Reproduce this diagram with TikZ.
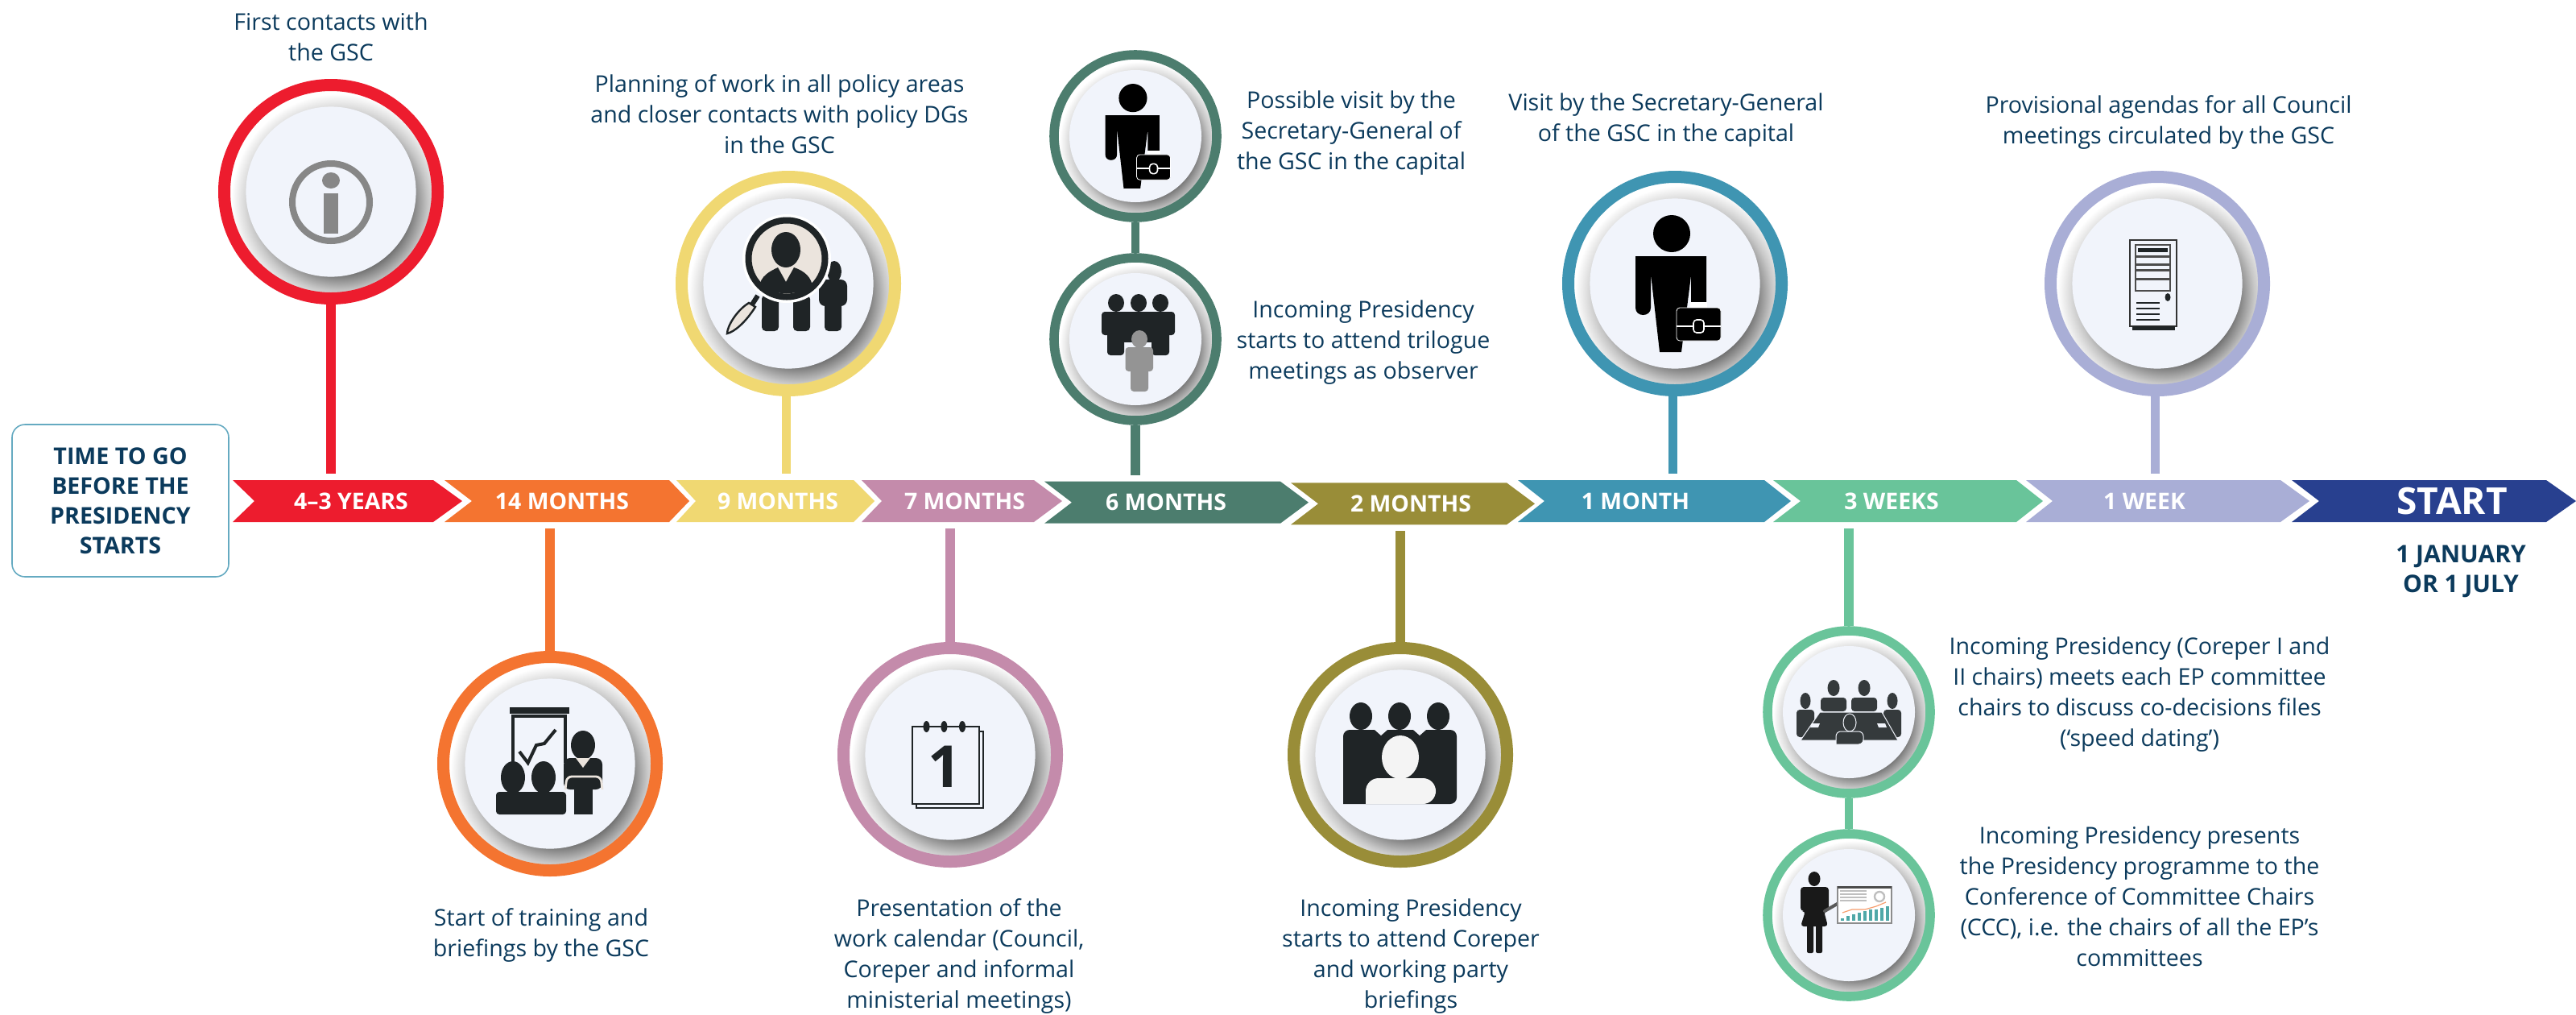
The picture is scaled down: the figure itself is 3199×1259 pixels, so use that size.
\documentclass[tikz,border=0pt]{standalone}
\usepackage{fontspec}
\setmainfont{Open Sans}
\usetikzlibrary{positioning}

\definecolor{ink}{HTML}{0B3A5C}
\definecolor{redc}{HTML}{ED1C2E}
\definecolor{orangec}{HTML}{F47430}
\definecolor{yellowc}{HTML}{F0D872}
\definecolor{mauvec}{HTML}{C48BAB}
\definecolor{pinec}{HTML}{4C7D6E}
\definecolor{olivec}{HTML}{998D38}
\definecolor{tealc}{HTML}{3F95B2}
\definecolor{mintc}{HTML}{69C49A}
\definecolor{lavc}{HTML}{A9AED6}
\definecolor{navyc}{HTML}{28408F}
\definecolor{platec}{HTML}{F1F4FB}
\definecolor{iconc}{HTML}{1F2426}
\definecolor{beigec}{HTML}{EBE4DD}

\pgfdeclareradialshading{ringshade}{\pgfpoint{3.2bp}{-4.2bp}}{color(0bp)=(black!58); color(16bp)=(black!58); color(20.8bp)=(black!22); color(22.4bp)=(black!13); color(25bp)=(white); color(50bp)=(white)}

\tikzset{
    manpic/.pic={
        \fill[black] (-4,-62) ellipse (23 and 23);
        \fill[black] (-49,-34) -- (39,-34) -- (39,35) -- (20,35) -- (20,-10) -- (8,85) -- (-19,85) -- (-30,-12) -- (-30,30)
            .. controls (-30,42) and (-49,42) .. (-49,30) -- cycle;
        \fill[white] (19,23) rectangle (40,32);
        \draw[white,fill=black,line width=.4pt,rounded corners=2pt] (2,30) rectangle (57,71);
        \draw[white,line width=1pt] (2,53) -- (57,53);
        \draw[white,fill=black,line width=.8pt,rounded corners=2pt] (23,45) rectangle (36,61);
    }
}

\begin{document}
\begin{tikzpicture}[x=.5pt,y=-.5pt,
    note/.style={align=center,text=ink,inner sep=0pt,font=\fontsize{14.3}{19}\selectfont},
    boldnote/.style={align=center,text=ink,inner sep=0pt,font=\bfseries\fontsize{15}{18.5}\selectfont},
    chevtext/.style={text=white,inner sep=0pt,outer sep=0pt,minimum height=26pt,font=\bfseries\fontsize{14.2}{16}\selectfont},
    bigring/.style={circle,draw=#1,line width=7.5pt,minimum size=132.5pt,inner sep=0pt,shade,shading=ringshade},
    smallring/.style={circle,draw=#1,line width=5.8pt,minimum size=101pt,inner sep=0pt,shade,shading=ringshade},
    bigplate/.style={circle,fill=platec,minimum size=105.6pt,inner sep=0pt},
    smallplate/.style={circle,fill=platec,minimum size=82pt,inner sep=0pt},
    stem/.style={#1,line width=5.6pt,shorten >=3.8pt}
]
    \useasboundingbox (0,0) rectangle (3199,1259);

    % the time bar
    \node[draw=tealc!80,line width=.8pt,rounded corners=8pt,minimum width=134.5pt,minimum height=94.5pt,inner sep=0pt,
          align=center,text=ink,font=\bfseries\fontsize{14.3}{18.5}\selectfont] (togo) at (149.5,621.5)
        {TIME TO GO\\BEFORE THE\\PRESIDENCY\\STARTS};
    \foreach \tname/\tcol/\xa/\xn/\xb/\xt/\xc/\yo/\lab in {
        yrs/redc/289/316/538/574/436/0/{4–3 YEARS},
        fourteen/orangec/552/586/831/856/698/0/{14 MONTHS},
        nine/yellowc/840/864/1060/1086/966/0/{9 MONTHS},
        seven/mauvec/1070/1095/1284/1319/1198/0/{7 MONTHS},
        six/pinec/1297/1331/1590/1625/1448/1.7/{6 MONTHS},
        two/olivec/1603/1637/1871/1906/1752/3.3/{2 MONTHS},
        one/tealc/1885/1918/2191/2224/2031/0/{1 MONTH},
        three/mintc/2202/2236/2504/2537/2349/0/{3 WEEKS},
        week/lavc/2516/2549/2832/2868/2663/0/{1 WEEK},
        start/navyc/2846/2880/3162/3199/3045/0/{\fontsize{23}{24}\selectfont START}}
    {
        \fill[\tcol] (\xa,596+\yo) -- (\xb,596+\yo) -- (\xt,622+\yo) -- (\xb,648+\yo) -- (\xa,648+\yo) -- (\xn,622+\yo) -- cycle;
        \node[chevtext] (\tname) at (\xc,622+\yo) {\lab};
    }
    \node[boldnote] (startdate) at (3056,709) {1 JANUARY\\OR 1 JULY};

    % the rings
    \node[bigring=redc]     (info)     at (411,238)  {};
    \node[bigring=yellowc]  (lens)     at (979,352)  {};
    \node[smallring=pinec]  (visit)    at (1410,169) {};
    \node[smallring=pinec]  (trilogue) at (1410,421) {};
    \node[bigring=tealc]    (man)      at (2080,352) {};
    \node[bigring=lavc]     (server)   at (2679,352) {};
    \node[bigring=orangec]  (board)    at (683,948)  {};
    \node[bigring=mauvec]   (calendar) at (1180,937) {};
    \node[bigring=olivec]   (group)    at (1739,937) {};
    \node[smallring=mintc]  (dating)   at (2296,884) {};
    \node[smallring=mintc]  (ccc)      at (2296,1136) {};

    \node[bigplate]   (infop)     at (411,238)  {};
    \node[bigplate]   (lensp)     at (979,352)  {};
    \node[smallplate] (visitp)    at (1410,169) {};
    \node[smallplate] (triloguep) at (1410,421) {};
    \node[bigplate]   (manp)      at (2080,352) {};
    \node[bigplate]   (serverp)   at (2679,352) {};
    \node[bigplate]   (boardp)    at (683,948)  {};
    \node[bigplate]   (calendarp) at (1180,937) {};
    \node[bigplate]   (groupp)    at (1739,937) {};
    \node[smallplate] (datingp)   at (2296,884) {};
    \node[smallplate] (cccp)      at (2296,1136) {};

    % connectors
    \draw[stem=redc]    (info.south)     -- (info.south |- yrs.north);
    \draw[stem=yellowc] ([xshift=-1.2pt]lens.south) -- ([xshift=-1.2pt]lens.south |- nine.north);
    \draw[pinec,line width=5.4pt] (visit.south) -- (trilogue.north);
    \draw[stem=pinec]   (trilogue.south) -- (trilogue.south |- six.north);
    \draw[stem=tealc]   ([xshift=-1.2pt]man.south) -- ([xshift=-1.2pt]man.south |- one.north);
    \draw[stem=lavc]    ([xshift=-1.2pt]server.south) -- ([xshift=-1.2pt]server.south |- week.north);
    \draw[stem=orangec] (board.north)    -- (board.north |- fourteen.south);
    \draw[stem=mauvec]  (calendar.north) -- (calendar.north |- seven.south);
    \draw[stem=olivec]  (group.north)    -- (group.north |- two.south);
    \draw[stem=mintc]   (dating.north)   -- (dating.north |- three.south);
    \draw[mintc,line width=5.4pt] (dating.south) -- (ccc.north);

    % texts
    \node[note] (infotext)     at (411,46)    {First contacts with\\the GSC};
    \node[note] (lenstext)     at (968,142)   {Planning of work in all policy areas\\and closer contacts with policy DGs\\in the GSC};
    \node[note] (visittext)    at (1678,165)  {Possible visit by the\\Secretary-General of\\the GSC in the capital};
    \node[note] (trilogtext)   at (1693,425)  {Incoming Presidency\\starts to attend trilogue\\meetings as observer};
    \node[note] (mantext)      at (2069,149)  {Visit by the Secretary-General\\of the GSC in the capital};
    \node[note] (servertext)   at (2693,152)  {Provisional agendas for all Council\\meetings circulated by the GSC};
    \node[note] (boardtext)    at (672,1161)  {Start of training and\\briefings by the GSC};
    \node[note] (calendartext) at (1191,1187) {Presentation of the\\work calendar (Council,\\Coreper and informal\\ministerial meetings)};
    \node[note] (grouptext)    at (1752,1187) {Incoming Presidency\\starts to attend Coreper\\and working party\\briefings};
    \node[note] (datingtext)   at (2657,862)  {Incoming Presidency (Coreper I and\\II chairs) meets each EP committee\\chairs to discuss co-decisions files\\(‘speed dating’)};
    \node[note] (ccctext)      at (2657,1113) {Incoming Presidency presents\\the Presidency programme to the\\Conference of Committee Chairs\\(CCC), i.e. the chairs of all the EP’s\\committees};

    % info icon
    \draw[black!47,line width=4pt] (411,251) circle (48);
    \fill[black!47] (411,224) ellipse (11 and 10);
    \fill[black!47] (402,240) rectangle (420,290);

    % magnifier icon
    \fill[iconc] (1036,337) ellipse (9 and 13);
    \fill[iconc,rounded corners=4pt] (1017,347) rectangle (1052,380);
    \foreach \xl in {946,985,1024}
        \fill[iconc,rounded corners=2.5pt] (\xl,366) rectangle (\xl+21,411);
    \draw[white,line width=1pt,fill=white] (977,321) circle (54);
    \draw[iconc,line width=4pt,fill=beigec] (977,321) circle (47.5);
    \fill[iconc] (976,310) ellipse (18 and 22);
    \fill[iconc] (943,358) .. controls (943,342) and (958,336) .. (966,332) -- (976,350) -- (986,332)
        .. controls (998,336) and (1009,344) .. (1009,358) .. controls (995,366) and (958,366) .. (943,358) -- cycle;
    \draw[iconc,line width=1.2pt,fill=beigec] (930,376) -- (938,381) .. controls (926,400) and (912,412) .. (903,414)
        .. controls (903,405) and (915,385) .. (930,376) -- cycle;
    \draw[iconc,line width=3pt] (934,378) -- (941,367);

    % briefcase men
    \pic[scale=.764] at (1410,169) {manpic};
    \pic at (2080,352) {manpic};

    % three people and an observer
    \foreach \xh in {1386,1414,1441}
        \fill[iconc] (\xh,376) ellipse (10 and 11);
    \fill[iconc,rounded corners=2pt] (1368,387) rectangle (1459,416);
    \fill[iconc,rounded corners=2pt] (1375,410) rectangle (1396,441);
    \fill[iconc,rounded corners=2pt] (1430,410) rectangle (1452,441);
    \fill[iconc] (1396,410) rectangle (1430,425);
    \fill[black!42] (1415,421) ellipse (10 and 11);
    \fill[black!42,rounded corners=2pt] (1397.5,431) rectangle (1432,461);
    \fill[black!42,rounded corners=2pt] (1404,455) rectangle (1426,486);

    % server icon
    \draw[black!80,fill=platec,line width=1pt] (2645,298) rectangle (2703,405);
    \fill[iconc] (2648,405) rectangle (2701,410);
    \foreach \ya/\yb in {304/318,319/328,329/335,336/346,347/361}
        \draw[black!70,line width=.7pt] (2652,\ya) rectangle (2695,\yb);
    \fill[iconc] (2655,308) rectangle (2692,313);
    \fill[iconc] (2692,369) ellipse (3.5 and 5);
    \foreach \ys in {375.7,382.7,390,396.7}
        \draw[iconc,line width=.8pt] (2653,\ys) -- (2682,\ys);

    % briefing icon
    \fill[iconc] (633,878) rectangle (707,886);
    \draw[iconc,line width=2pt] (637,947) -- (637,889) -- (702,889) -- (702,947);
    \draw[iconc,line width=2pt] (645,933) -- (655.6,947) -- (666,925) -- (676,923) -- (690,906);
    \fill[iconc] (637,965) ellipse (15 and 20);
    \fill[iconc] (675,965) ellipse (15 and 20);
    \fill[iconc,rounded corners=2pt] (616,983) rectangle (703,1011);
    \fill[iconc] (724,925) ellipse (15 and 18);
    \fill[iconc,rounded corners=4pt] (700,941) rectangle (748,980);
    \fill[beigec] (715,941) -- (733,941) -- (724,953) -- cycle;
    \draw[beigec,line width=1.4pt,rounded corners=3pt] (702,980) -- (704,964) -- (746,964) -- (748,980);
    \fill[iconc] (713,975) rectangle (736,1011);

    % calendar icon
    \draw[iconc,fill=platec,line width=1pt] (1138,908) rectangle (1221,1003);
    \draw[iconc,fill=platec,line width=1.2pt] (1133,902) rectangle (1216,998);
    \foreach \xr in {1150.5,1172.4,1195}
        \fill[iconc] (\xr,902) ellipse (4 and 7);
    \node[text=iconc,inner sep=0pt,font=\bfseries\fontsize{36}{36}\selectfont] (calnum) at (1173,952) {1};

    % crowd icon
    \foreach \xh in {1690,1738,1786}
        \fill[iconc] (\xh,889) ellipse (14 and 17);
    \fill[iconc,rounded corners=4pt] (1668,998) -- (1668,906) -- (1809,906) -- (1809,998) [sharp corners] -- cycle;
    \foreach \xh in {1715,1763}
        \fill[platec] (\xh-9,905) -- (\xh+9,905) -- (\xh,913) -- cycle;
    \fill[beigec!50!black!8!white] (1739,940) ellipse (23 and 27);
    \fill[beigec!50!black!8!white,rounded corners=8pt] (1696,998) -- (1696,966) -- (1783,966) -- (1783,998) [sharp corners] -- cycle;

    % meeting icon
    \foreach \xh in {2277,2315} {
        \fill[iconc!90!white] (\xh,854) ellipse (7.5 and 10);
        \fill[iconc!90!white,rounded corners=2pt] (\xh-16,866) rectangle (\xh+16,883);
    }
    \foreach \xh in {2242,2350} {
        \fill[iconc!90!white] (\xh,870) ellipse (6.5 and 10);
        \fill[iconc!90!white,rounded corners=2pt] (\xh-11,881) rectangle (\xh+11,915);
    }
    \draw[platec,fill=iconc!90!white,line width=.5pt] (2260,884) -- (2337,884) -- (2357,919) -- (2236,919) -- cycle;
    \draw[platec,fill=iconc!90!white,line width=.5pt] (2297,897) ellipse (8 and 11);
    \draw[platec,fill=iconc!90!white,line width=.5pt,rounded corners=3pt] (2280,924) -- (2280,908) -- (2314,908) -- (2314,924) [sharp corners] -- cycle;
    \fill[platec] (2250,898) -- (2260,898) -- (2258,903) -- (2248,903) -- cycle;
    \fill[platec] (2331,898) -- (2341,898) -- (2343,903) -- (2333,903) -- cycle;

    % presenter icon
    \fill[black!90] (2253,1091) ellipse (7.5 and 9);
    \fill[black!90,rounded corners=2pt] (2236,1101) -- (2271,1101) -- (2271,1131) -- (2265,1131) -- (2270,1150) -- (2236,1150) -- (2242,1131) -- (2236,1131) -- cycle;
    \fill[black!90,rounded corners=1pt] (2244,1148) rectangle (2252,1183);
    \fill[black!90,rounded corners=1pt] (2255,1148) rectangle (2263,1183);
    \draw[black!65,line width=2pt,line cap=round] (2266,1131) -- (2285,1120);
    \draw[black!45,fill=white,line width=.6pt] (2282,1101) rectangle (2349,1146);
    \fill[black!70] (2282,1100) rectangle (2349,1103);
    \foreach \yl in {1106,1110,1114,1118}
        \draw[black!25,line width=.6pt] (2285,\yl) -- (2318,\yl);
    \draw[black!25,line width=1.2pt] (2334,1113) circle (6);
    \foreach \xl/\yl in {2286/1140,2293/1137,2300/1135,2307/1133,2314/1131,2321/1129,2328/1129,2335/1127,2342/1125}
        \fill[tealc!60!mintc] (\xl,\yl) rectangle (\xl+4,1143);
    \draw[orangec!70,line width=.6pt] (2288,1133) -- (2300,1129) -- (2316,1129) -- (2330,1125) -- (2342,1120);
\end{tikzpicture}
\end{document}
